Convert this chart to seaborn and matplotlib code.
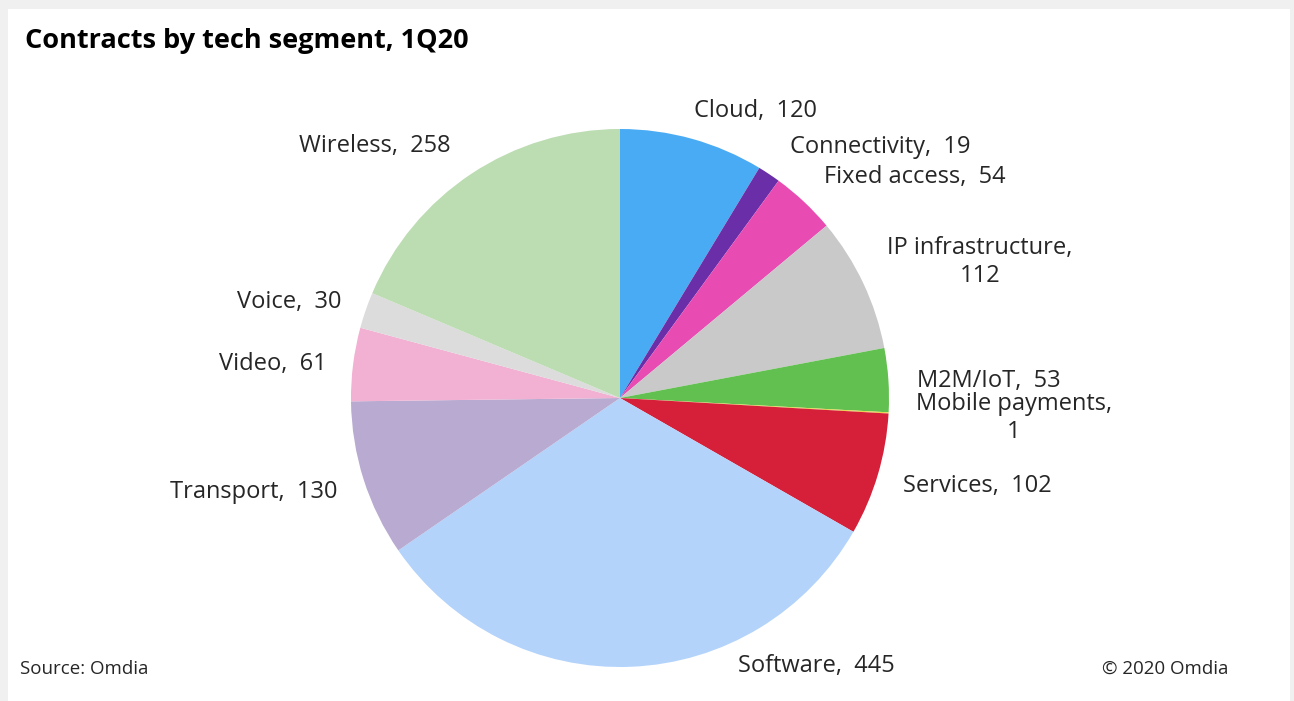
import matplotlib
matplotlib.use("Agg")
import matplotlib.pyplot as plt
import seaborn as sns

# Daten
segments = ['Cloud', 'Connectivity', 'Fixed access', 'IP infrastructure', 'M2M/IoT',
            'Mobile payments', 'Services', 'Software', 'Transport', 'Video', 'Voice', 'Wireless']
contracts = [120, 19, 54, 112, 53, 1, 102, 445, 130, 61, 30, 258]
colors = ['#4aabf5', '#6a2fa8', '#e84cb3', '#c9c9c9', '#62c050', '#e8d44d',
          '#d61f38', '#b3d3fa', '#b8aad0', '#f2b0d3', '#dcdcdc', '#bcdcb2']

# label texts and where they sit (pie radius = 1)
label_text = ['Cloud,  120', 'Connectivity,  19', 'Fixed access,  54', 'IP infrastructure,\n112',
              'M2M/IoT,  53', 'Mobile payments,\n1', 'Services,  102', 'Software,  445',
              'Transport,  130', 'Video,  61', 'Voice,  30', 'Wireless,  258']
label_xy = [(0.502, 1.067), (0.967, 0.933), (1.097, 0.822), (1.338, 0.506),
            (1.372, 0.063), (1.465, -0.074), (1.327, -0.327), (0.729, -0.996),
            (-1.361, -0.349), (-1.290, 0.126), (-1.230, 0.357), (-0.911, 0.937)]

sns.set_style('white')
plt.rcParams['font.family'] = ['Open Sans', 'DejaVu Sans']

W, H = 1294, 701
cx, cy, R = 620, 398, 269
fig = plt.figure(figsize=(W / 100, H / 100), dpi=100)
fig.patch.set_facecolor('#f0f0f0')
ax = fig.add_axes([8 / W, 0, (W - 12) / W, (H - 9) / H])
x0 = (8 - cx) / R
x1 = (W - 4 - cx) / R
y0 = (cy - H) / R
y1 = (cy - 9) / R
ax.axis('off')
ax.add_patch(plt.Rectangle((x0, y0), x1 - x0, y1 - y0, facecolor='white', edgecolor='none', zorder=0))

ax.pie(contracts, colors=colors, startangle=90, counterclock=False, radius=1,
       wedgeprops=dict(linewidth=0), center=(0, 0))
ax.set_xlim(x0, x1)
ax.set_ylim(y0, y1)

for txt, (lx, ly) in zip(label_text, label_xy):
    ax.text(lx, ly, txt, ha='center', va='center', fontsize=17, color='#262626',
            linespacing=1.25)

fig.text(25 / W, 1 - 41 / H, 'Contracts by tech segment, 1Q20', fontsize=19.5,
         fontweight='bold', ha='left', va='center', color='black')
fig.text(20 / W, 1 - 669 / H, 'Source: Omdia', fontsize=13.5, ha='left', va='center', color='#262626')
fig.text(1228 / W, 1 - 669 / H, '© 2020 Omdia', fontsize=13.5, ha='right', va='center', color='#262626')

fig.savefig('out.png', dpi=100, facecolor=fig.get_facecolor())
